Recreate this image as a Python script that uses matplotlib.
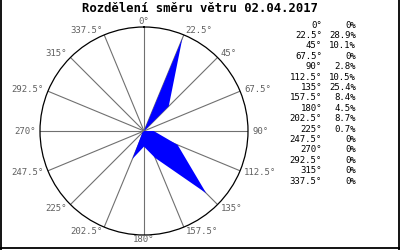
import numpy as np
import matplotlib
matplotlib.use("Agg")
import matplotlib.pyplot as plt
from matplotlib.lines import Line2D

###################### Data ######################
title = "Rozdělení směru větru 02.04.2017"
directions = [0, 22.5, 45, 67.5, 90, 112.5, 135, 157.5,
              180, 202.5, 225, 247.5, 270, 292.5, 315, 337.5]
percents = [0, 28.9, 10.1, 0, 2.8, 10.5, 25.4, 8.4,
            4.5, 8.7, 0.7, 0, 0, 0, 0, 0]
rmax = 30.0
##################################################

W, H = 400, 250
fig = plt.figure(figsize=(W / 100, H / 100), dpi=100)
fig.patch.set_facecolor("white")

# Polar axes, centre (144, 131) px, radius 104 px
cx, cy, R = 144, 131, 104
ax = fig.add_axes([(cx - R) / W, 1 - (cy + R) / H, 2 * R / W, 2 * R / H],
                  projection="polar")
ax.set_theta_zero_location("N")
ax.set_theta_direction(-1)
ax.set_ylim(0, rmax)
ax.set_yticks([])
ax.set_xticks(np.radians(directions))
ax.set_xticklabels([])
ax.grid(True, color="#707070", linewidth=0.8)
ax.spines["polar"].set_color("black")
ax.spines["polar"].set_linewidth(0.9)

theta = np.radians(directions + [directions[0]])
vals = percents + [percents[0]]
ax.fill(theta, vals, color="#0000ff", linewidth=0, zorder=3)

# Direction labels outside the circle
for d in directions:
    a = np.radians(d)
    if d == 0 or d == 180:
        ha = "center"
    elif d < 180:
        ha = "left"
    else:
        ha = "right"
    ax.annotate("%g°" % d, xy=(a, rmax), xytext=(np.sin(a) * 4.5, np.cos(a) * 5),
                textcoords="offset pixels", ha=ha, va="center",
                family="DejaVu Sans Mono", fontsize=6.5, color="#606060",
                annotation_clip=False)

# Title
fig.text(200 / W, 1 - 9 / H, title, ha="center", va="center",
         family="DejaVu Sans Mono", fontweight="bold", fontsize=8.8)

# Table on the right
for i, (d, p) in enumerate(zip(directions, percents)):
    y = 1 - (25 + i * 10.4) / H
    fig.text(322 / W, y, "%g°" % d, ha="right", va="center",
             family="DejaVu Sans Mono", fontsize=6.5)
    fig.text(356 / W, y, "%g%%" % p, ha="right", va="center",
             family="DejaVu Sans Mono", fontsize=6.5)

# Frame
for xs, ys in [([0.8, 0.8], [0, H]), ([W - 1.2, W - 1.2], [0, H]),
               ([0, W], [H - 1.7, H - 1.7])]:
    fig.add_artist(Line2D([x / W for x in xs], [1 - y / H for y in ys],
                          color="black", linewidth=1.3))

fig.savefig("out.png", dpi=100)
